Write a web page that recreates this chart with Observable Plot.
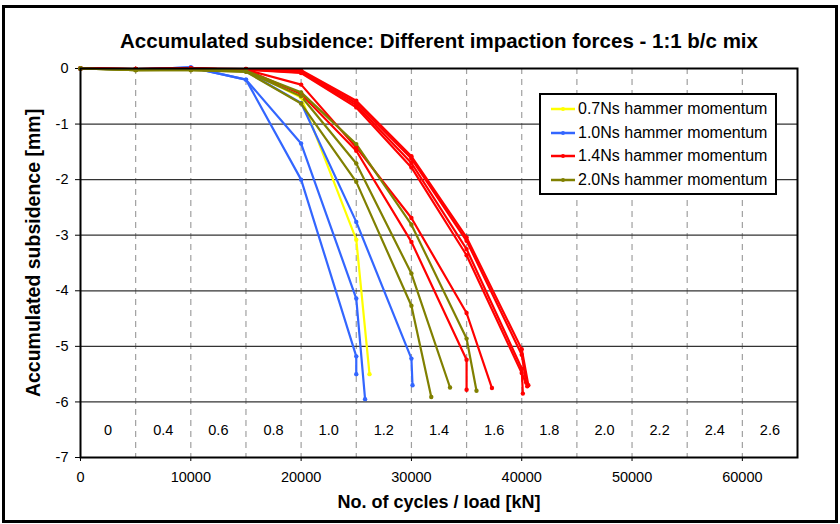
<!DOCTYPE html>
<html>
<head>
<meta charset="utf-8">
<script src="https://cdn.jsdelivr.net/npm/d3@7"></script>
<script src="https://cdn.jsdelivr.net/npm/@observablehq/plot@0.6"></script>
<style>
  html, body { margin: 0; padding: 0; background: #fff; }
  #wrap { position: relative; width: 840px; height: 524px; font-family: "Liberation Sans", Arial, sans-serif; }
  #border { position: absolute; left: 2px; top: 5px; width: 830px; height: 512px; border: 3px solid #000; pointer-events: none; }
  #legend { position: absolute; left: 539px; top: 93px; width: 234px; height: 98px; border: 2px solid #000; background: #fff; }
  .row { position: absolute; left: 0; height: 20px; font-size: 16px; line-height: 20px; color: #000; }
  .row svg { position: absolute; left: 10px; top: 6px; }
  .row span { position: absolute; left: 37px; white-space: nowrap; }
</style>
</head>
<body>
<div id="wrap"><div id="chart"></div><div id="legend"></div><div id="border"></div></div>
<script>
const title = "Accumulated subsidence: Different impaction forces - 1:1 b/c mix";
const xLabel = "No. of cycles / load [kN]";
const yLabel = "Accumulated subsidence [mm]";
const series = ["0.7Ns hammer momentum", "1.0Ns hammer momentum", "1.4Ns hammer momentum", "2.0Ns hammer momentum"];
const colors = ["#FFFF00", "#3366FF", "#FF0000", "#808000"];

const xTicks = [0, 10000, 20000, 30000, 40000, 50000, 60000];
const yTicks = [0, -1, -2, -3, -4, -5, -6, -7];
const xGrid = [5000, 10000, 15000, 20000, 25000, 30000, 35000, 40000, 45000, 50000, 55000, 60000];
const yGrid = [-1, -2, -3, -4, -5, -6];
const loadLabels = ["0", "0.4", "0.6", "0.8", "1.0", "1.2", "1.4", "1.6", "1.8", "2.0", "2.2", "2.4", "2.6"];
const loadX = [2500, 7500, 12500, 17500, 22500, 27500, 32500, 37500, 42500, 47500, 52500, 57500, 62500];

// 0.7Ns
const yellow1X = [0, 5000, 10000, 15000, 20000, 25000, 26200];
const yellow1Y = [0, -0.01, 0, -0.02, -0.52, -3.08, -5.50];
// 1.0Ns
const blue1X = [0, 5000, 10000, 15000, 20000, 25000, 25000];
const blue1Y = [0, -0.02, 0.02, -0.20, -2.00, -5.18, -5.50];
const blue2X = [0, 5000, 10000, 15000, 20000, 25000, 25800];
const blue2Y = [0, -0.02, 0.02, -0.20, -1.35, -4.14, -5.95];
const blue3X = [0, 5000, 10000, 15000, 20000, 25000, 30000, 30100];
const blue3Y = [0, -0.01, 0.01, -0.05, -0.62, -2.76, -5.22, -5.70];
// 1.4Ns
const red1X = [0, 5000, 10000, 15000, 20000, 25000, 30000, 35000, 40000, 40600];
const red1Y = [0, -0.01, 0, -0.01, -0.03, -0.58, -1.58, -3.04, -5.05, -5.70];
const red2X = [0, 5000, 10000, 15000, 20000, 25000, 30000, 35000, 40000, 40400];
const red2Y = [0, -0.01, 0, -0.01, -0.05, -0.62, -1.62, -3.10, -5.15, -5.65];
const red3X = [0, 5000, 10000, 15000, 20000, 25000, 30000, 35000, 40000, 40100];
const red3Y = [0, -0.01, 0, -0.02, -0.07, -0.66, -1.70, -3.25, -5.40, -5.85];
const red4X = [0, 5000, 10000, 15000, 20000, 25000, 30000, 35000, 40000, 40500];
const red4Y = [0, -0.01, 0, -0.02, -0.08, -0.70, -1.78, -3.36, -5.48, -5.72];
const red5X = [0, 5000, 10000, 15000, 20000, 25000, 30000, 35000, 37300];
const red5Y = [0, -0.01, 0, -0.02, -0.29, -1.42, -2.69, -4.40, -5.75];
const red6X = [0, 5000, 10000, 15000, 20000, 25000, 30000, 35000, 35000];
const red6Y = [0, -0.01, 0, -0.02, -0.46, -1.48, -3.12, -5.24, -5.78];
// 2.0Ns
const olive1X = [0, 5000, 10000, 15000, 20000, 25000, 30000, 35000, 35900];
const olive1Y = [0, -0.03, -0.02, -0.04, -0.43, -1.36, -2.81, -4.86, -5.80];
const olive2X = [0, 5000, 10000, 15000, 20000, 25000, 30000, 33500];
const olive2Y = [0, -0.03, -0.03, -0.05, -0.50, -1.71, -3.69, -5.74];
const olive3X = [0, 5000, 10000, 15000, 20000, 25000, 30000, 31800];
const olive3Y = [0, -0.03, -0.03, -0.06, -0.63, -2.04, -4.27, -5.91];

const curves = [
  ["y1", 0, yellow1X, yellow1Y],
  ["b1", 1, blue1X, blue1Y], ["b2", 1, blue2X, blue2Y], ["b3", 1, blue3X, blue3Y],
  ["r1", 2, red1X, red1Y], ["r2", 2, red2X, red2Y], ["r3", 2, red3X, red3Y],
  ["r4", 2, red4X, red4Y], ["r5", 2, red5X, red5Y], ["r6", 2, red6X, red6Y],
  ["o1", 3, olive1X, olive1Y], ["o2", 3, olive2X, olive2Y], ["o3", 3, olive3X, olive3Y]
];
const rows = curves.flatMap(([id, s, xs, ys]) => xs.map((x, i) => ({curve: id, series: series[s], x, y: ys[i]})));
const font = "Liberation Sans, Arial, sans-serif";

const chart = Plot.plot({
  width: 840, height: 524,
  marginLeft: 80, marginRight: 43, marginTop: 68, marginBottom: 67,
  style: {fontFamily: font, fontSize: "14.5px", background: "#fff", color: "#000"},
  x: {domain: [0, 65000]},
  y: {domain: [-7, 0]},
  color: {domain: series, range: colors},
  marks: [
    Plot.ruleX(xGrid, {stroke: "#a0a0a0", strokeWidth: 1.2, strokeDasharray: "6,5"}),
    Plot.ruleY(yGrid, {stroke: "#333", strokeWidth: 1.2}),
    Plot.axisX({ticks: xTicks, tickFormat: d => String(d), tickSize: 4, tickPadding: 10, label: null, fontSize: 14.5}),
    Plot.axisY({ticks: yTicks, tickFormat: d => String(d), tickSize: 5, tickPadding: 7, label: null, fontSize: 14.5}),
    Plot.text(loadLabels, {x: (d, i) => loadX[i], y: -6.52, text: d => d, fontSize: 14.5}),
    Plot.line(rows, {x: "x", y: "y", z: "curve", stroke: "series", strokeWidth: 2.2}),
    Plot.dot(rows, {x: "x", y: "y", fill: "series", r: 2.2}),
    Plot.frame({stroke: "#000", strokeWidth: 2}),
    Plot.text([title], {frameAnchor: "top", dy: -35, fontSize: 20.5, fontWeight: "bold", text: d => d}),
    Plot.text([xLabel], {frameAnchor: "bottom", dy: 50, fontSize: 18, fontWeight: "bold", text: d => d}),
    Plot.text([yLabel], {frameAnchor: "left", textAnchor: "middle", dx: -47, dy: -10, rotate: -90, fontSize: 19.5, fontWeight: "bold", text: d => d})
  ]
});
document.getElementById("chart").appendChild(chart);

const legend = document.getElementById("legend");
series.forEach((s, i) => {
  const row = document.createElement("div");
  row.className = "row";
  row.style.top = (4 + i * 23.7) + "px";
  row.innerHTML = `<svg width="24" height="8"><line x1="0" y1="4" x2="24" y2="4" stroke="${colors[i]}" stroke-width="2.5"/><circle cx="12" cy="4" r="2" fill="${colors[i]}"/></svg><span>${s}</span>`;
  legend.appendChild(row);
});
</script>
</body>
</html>
